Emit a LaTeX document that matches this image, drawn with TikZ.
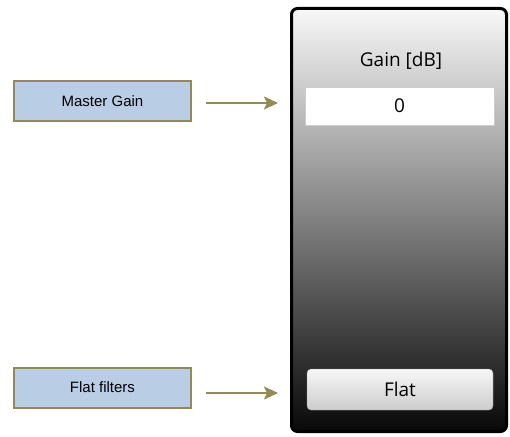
\documentclass[tikz,border=0pt]{standalone}
\usepackage{fontspec}
\setmainfont{Liberation Sans}
\newfontfamily\uifont{Open Sans}
\usetikzlibrary{arrows.meta}

\definecolor{labelblue}{RGB}{185,205,229}
\definecolor{olive}{RGB}{148,138,84}
\definecolor{paneltop}{RGB}{248,248,248}
\definecolor{panelbottom}{RGB}{8,8,8}

\tikzset{
  label box/.style={draw=olive, line width=2pt, fill=labelblue, minimum width=177pt, minimum height=40pt, inner sep=0pt, font=\fontsize{15}{18}\selectfont},
  pointer/.style={draw=olive, line width=2pt, -{Stealth[length=14pt,width=13pt,inset=3pt]}},
  ui text/.style={font=\uifont\fontsize{19}{22}\selectfont, text=black}
}

\begin{document}
\begin{tikzpicture}[x=1pt,y=-1pt]
\useasboundingbox (0,0) rectangle (510,436);

% the panel
\node[draw=black, line width=3pt, rounded corners=6pt, top color=paneltop, bottom color=panelbottom,
      minimum width=215pt, minimum height=423pt, inner sep=0pt] (panel) at (399,220) {};

\node[ui text] (gaintitle) at (401,61) {Gain [dB]};
\node[draw=black!20, fill=white, minimum width=189pt, minimum height=38pt, inner sep=0pt, ui text] (gainvalue) at (399.5,106) {0};
\node[draw=black!40, rounded corners=4pt, top color=black!3, bottom color=black!20,
      minimum width=186pt, minimum height=41pt, inner sep=0pt, ui text] (flatbutton) at (400,389.5) {Flat};

% labels
\node[label box] (mastergain) at (102.5,101) {Master Gain};
\node[label box] (flatfilters) at (102.5,387.5) {Flat filters};

\draw[pointer] ([xshift=14pt,yshift=-2pt]mastergain.east) -- ([xshift=-12pt,yshift=-2pt]mastergain.east -| panel.west);
\draw[pointer] ([xshift=14pt,yshift=-5.5pt]flatfilters.east) -- ([xshift=-12pt,yshift=-5.5pt]flatfilters.east -| panel.west);
\end{tikzpicture}
\end{document}
